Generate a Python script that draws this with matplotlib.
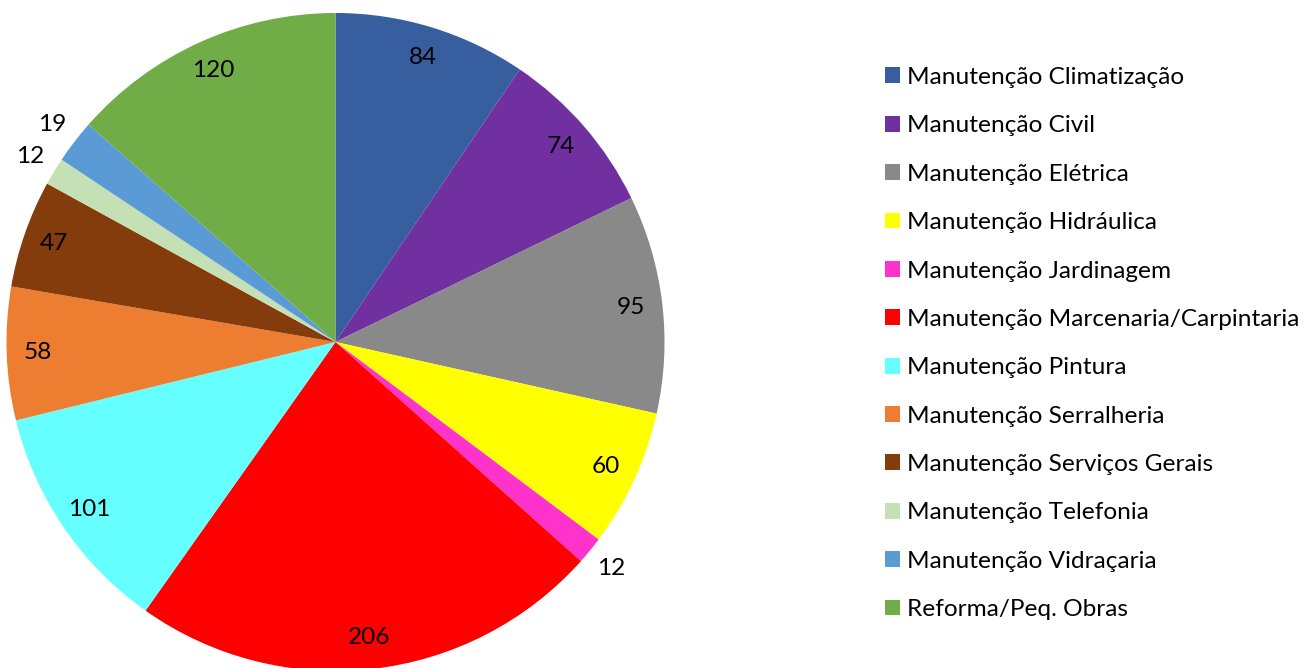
import numpy as np
import matplotlib.pyplot as plt
from matplotlib.patches import Patch

plt.rcParams['font.family'] = ['Lato', 'DejaVu Sans']

categories = ["Manutenção Climatização", "Manutenção Civil", "Manutenção Elétrica",
              "Manutenção Hidráulica", "Manutenção Jardinagem",
              "Manutenção Marcenaria/Carpintaria", "Manutenção Pintura",
              "Manutenção Serralheria", "Manutenção Serviços Gerais",
              "Manutenção Telefonia", "Manutenção Vidraçaria", "Reforma/Peq. Obras"]
values = [84, 74, 95, 60, 12, 206, 101, 58, 47, 12, 19, 120]
colors = ["#375E9F", "#7030A0", "#898989", "#FFFF00", "#FF33CC", "#FF0000",
          "#66FFFF", "#ED7D31", "#843C0C", "#C5E0B4", "#5B9BD5", "#70AD47"]
outside = {"Manutenção Jardinagem", "Manutenção Telefonia", "Manutenção Vidraçaria"}

W, H = 1311, 668
fig = plt.figure(figsize=(W / 100, H / 100), dpi=100)

# pie axes placed in pixels: centre (335.5, 342), radius 329
cx, cy, r = 335.5, 342, 329
ax = fig.add_axes([(cx - r) / W, (H - cy - r) / H, 2 * r / W, 2 * r / H])
wedges, _ = ax.pie(values, colors=colors, startangle=90, counterclock=False,
                   radius=1, wedgeprops=dict(linewidth=0))
ax.set_xlim(-1, 1)
ax.set_ylim(-1, 1)
ax.set_aspect('equal')
ax.axis('off')

fs = 17.6
for w, v, name in zip(wedges, values, categories):
    mid = np.deg2rad((w.theta1 + w.theta2) / 2)
    d = 1.085 if name in outside else 0.905
    ax.text(d * np.cos(mid), d * np.sin(mid), str(v), ha='center', va='center',
            fontsize=fs, color='black')

handles = [Patch(facecolor=c, edgecolor='none') for c in colors]
fig.legend(handles, categories, loc='upper left', bbox_to_anchor=(885 / W, 1 - 67 / H),
           frameon=False, fontsize=fs, handlelength=0.62, handleheight=0.62,
           handletextpad=0.3, labelspacing=1.12, borderaxespad=0, borderpad=0)

fig.savefig("out.png", dpi=100)
